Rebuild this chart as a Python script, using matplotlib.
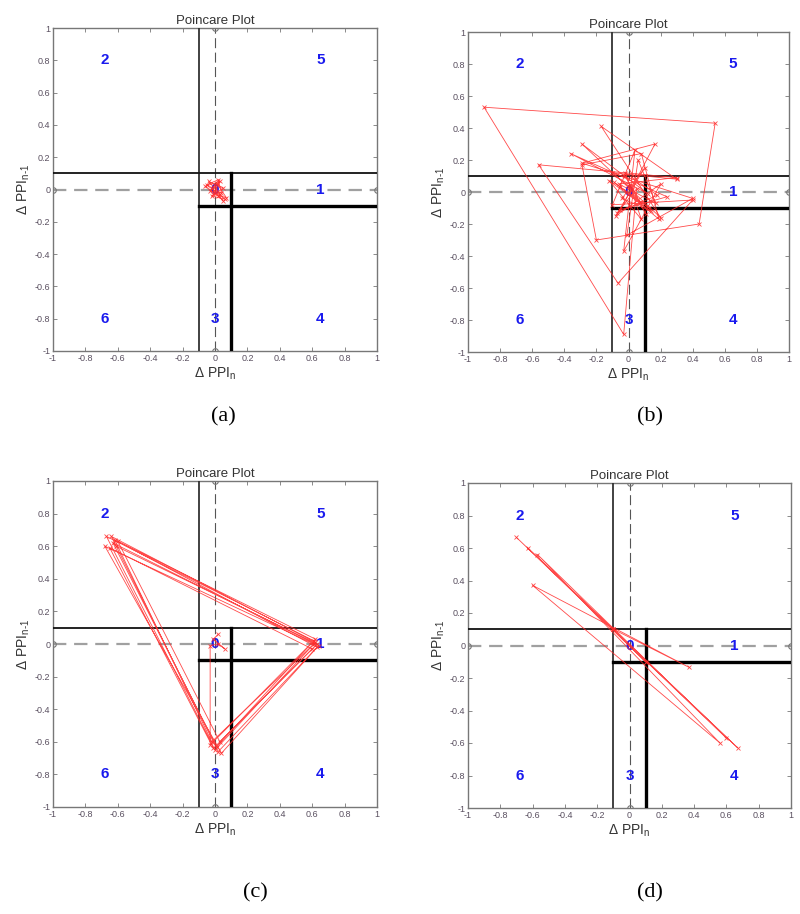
import matplotlib
matplotlib.use("Agg")
import matplotlib.pyplot as plt

plt.rcParams['font.family'] = ['Liberation Sans', 'DejaVu Sans']
plt.rcParams['axes.unicode_minus'] = False

# ---------------- data ----------------
ticks = [-1, -0.8, -0.6, -0.4, -0.2, 0, 0.2, 0.4, 0.6, 0.8, 1]
tick_labels = ['-1', '-0.8', '-0.6', '-0.4', '-0.2', '0', '0.2', '0.4', '0.6', '0.8', '1']

region_labels = ['0', '1', '2', '5', '6', '3', '4']
region_x = [0.0, 0.65, -0.68, 0.65, -0.68, 0.0, 0.65]
region_y = [0.0, 0.0, 0.8, 0.8, -0.8, -0.8, -0.8]

# panel (a): small cluster around the origin
a_x = [0.00, 0.03, -0.04, 0.05, -0.02, 0.06, -0.05, 0.02, 0.04, -0.03, 0.01, 0.07, -0.01, 0.03, -0.06, 0.02, 0.05, -0.02]
a_y = [0.02, -0.03, 0.05, 0.01, -0.04, -0.06, 0.03, 0.06, -0.02, -0.01, 0.04, -0.05, -0.03, 0.05, 0.02, -0.04, -0.07, 0.01]

# panel (b): irregular wandering trajectory
b_x = [0.02, -0.10, 0.30, -0.17, 0.20, -0.29, 0.12, -0.36, 0.24, -0.05, 0.165, -0.29, 0.40,
       -0.01, 0.06, 0.17, -0.06, 0.30, -0.56, -0.065, 0.40, -0.10, 0.04, -0.03, 0.20, -0.08,
       0.10, -0.04, 0.14, -0.12, 0.08, -0.02, 0.18, -0.07, 0.05, -0.03, -0.90, 0.54, 0.44,
       -0.20, -0.29, 0.08, 0.19, -0.05, 0.13, -0.09, 0.07, -0.02, 0.11, 0.00]
b_y = [0.02, 0.12, 0.08, 0.41, -0.16, 0.30, -0.01, 0.24, -0.03, -0.11, 0.30, 0.18, -0.04,
       -0.27, 0.20, -0.07, 0.05, 0.09, 0.17, -0.57, -0.05, -0.08, 0.26, -0.37, 0.05, -0.15,
       0.15, -0.04, -0.12, 0.07, -0.17, 0.12, -0.02, -0.13, 0.02, -0.89, 0.53, 0.43, -0.20,
       -0.30, 0.17, 0.24, -0.17, 0.03, -0.10, 0.06, -0.06, 0.10, -0.14, 0.04]

# panel (c): repeating triangle cycle
c_x = [0.02, -0.01, 0.06, 0.02, -0.03, -0.03, 0.61, -0.67, 0.00, 0.62, -0.64, 0.02, 0.63,
       -0.62, -0.02, 0.61, -0.68, 0.04, 0.64, -0.63, 0.01, 0.62, -0.60, 0.03, 0.60, -0.65,
       -0.01, 0.63, -0.61]
c_y = [0.06, 0.03, -0.03, 0.00, -0.01, -0.62, 0.02, 0.66, -0.65, 0.01, 0.66, -0.66, -0.02,
       0.64, -0.60, 0.00, 0.60, -0.67, -0.01, 0.62, -0.63, 0.03, 0.63, -0.60, -0.03, 0.59,
       -0.64, 0.00, 0.60]

# panel (d): alternating trajectory along the anti-diagonal
d_x = [-0.10, 0.10, -0.10, 0.37, -0.60, 0.56, -0.57, 0.60, -0.63, 0.67, -0.70, 0.10, -0.10]
d_y = [0.10, -0.10, 0.10, -0.135, 0.37, -0.60, 0.56, -0.57, 0.60, -0.63, 0.665, -0.10, 0.10]

panels = [
    ('(a)', a_x, a_y, [53, 28, 377, 351], 223, 417),
    ('(b)', b_x, b_y, [468, 32, 789, 352], 650, 417),
    ('(c)', c_x, c_y, [53, 481, 377, 807], 255, 893),
    ('(d)', d_x, d_y, [468, 483, 791, 808], 650, 893),
]

W, H = 800, 914
fig = plt.figure(figsize=(W / 100, H / 100), dpi=100)

for cap, xs, ys, (l, t, r, b), cx, cy in panels:
    ax = fig.add_axes([l / W, 1 - b / H, (r - l) / W, (b - t) / H])
    ax.set_xlim(-1, 1)
    ax.set_ylim(-1, 1)

    # dashed axes through origin
    ax.plot([-1, 1], [0, 0], color='#a0a0a0', lw=1.6, dashes=(6, 3.5),
            marker='o', ms=4, mfc='none', mec='#777777', mew=0.8, zorder=2)
    ax.plot([0, 0], [-1, 1], color='#555555', lw=0.8, dashes=(9, 4),
            marker='o', ms=4, mfc='none', mec='#777777', mew=0.8, zorder=2)

    # region boundaries
    ax.plot([-0.1, -0.1], [-1, 1], color='#333333', lw=1.3, zorder=3)
    ax.plot([-1, 1], [0.1, 0.1], color='#111111', lw=1.3, zorder=3)
    ax.plot([-0.1, 1], [-0.1, -0.1], color='#000000', lw=2.4, zorder=3)
    ax.plot([0.1, 0.1], [0.1, -1], color='#000000', lw=2.4, zorder=3)

    # region numbers
    for lab, rx, ry in zip(region_labels, region_x, region_y):
        ax.text(rx, ry, lab, color='#1a1aee', fontsize=11, fontweight='bold',
                ha='center', va='center', zorder=4)

    # data trajectory
    ax.plot(xs, ys, color='#ff2a2a', lw=0.6, marker='x', ms=3, mew=0.6,
            alpha=0.85, zorder=5)

    ax.set_xticks(ticks)
    ax.set_yticks(ticks)
    ax.set_xticklabels(tick_labels)
    ax.set_yticklabels(tick_labels)
    ax.tick_params(direction='in', length=3, width=0.6, colors='#777777',
                   labelsize=6.5, labelcolor='#5a5060', top=True, right=True, pad=2)
    for s in ax.spines.values():
        s.set_color('#777777')
        s.set_linewidth(1.0)

    ax.set_title('Poincare Plot', fontsize=9.5, color='#333333', pad=3)
    ax.set_xlabel('Δ PPI$_\\mathregular{n}$', fontsize=10, color='#333333', labelpad=2)
    ax.set_ylabel('Δ PPI$_\\mathregular{n\u2010 1}$', fontsize=10, color='#333333', labelpad=2)

    fig.text(cx / W, 1 - cy / H, cap, ha='center', va='center',
             fontsize=16, family='Liberation Serif', color='black')

fig.savefig('out.png', dpi=100)
